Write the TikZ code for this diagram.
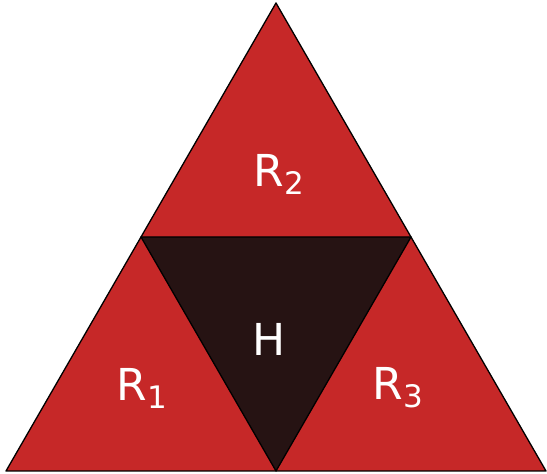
\documentclass[tikz,border=0pt]{standalone}
\usepackage{fontspec}
\setmainfont{DejaVu Sans}
\definecolor{tred}{HTML}{C62828}
\definecolor{tdark}{HTML}{261313}
\newcommand{\mysub}[1]{\raisebox{-8pt}{\fontsize{31}{31}\selectfont #1}}
\begin{document}
\begin{tikzpicture}[x=1pt,y=1pt,
  tri/.style={draw=black,line width=1.3pt,line join=round},
  lbl/.style={text=white,font=\fontsize{44}{48}\selectfont,inner sep=0pt}]
\useasboundingbox (0,0) rectangle (547,474);
\coordinate (T) at (276,471);
\coordinate (L) at (6,3);
\coordinate (R) at (546,3);
\coordinate (ML) at (141,237);
\coordinate (MR) at (411,237);
\coordinate (MB) at (276,3);
\fill[tred] (T) -- (L) -- (R) -- cycle;
\fill[tdark] (ML) -- (MR) -- (MB) -- cycle;
\draw[tri] (T) -- (L) -- (R) -- cycle;
\draw[tri] (ML) -- (MR) -- (MB) -- cycle;
\node[lbl] (r2) at (279,300) {R\mysub{2}};
\node[lbl] (h) at (269,135) {H};
\node[lbl] (r1) at (142,86) {R\mysub{1}};
\node[lbl] (r3) at (398,86) {R\mysub{3}};
\end{tikzpicture}
\end{document}
